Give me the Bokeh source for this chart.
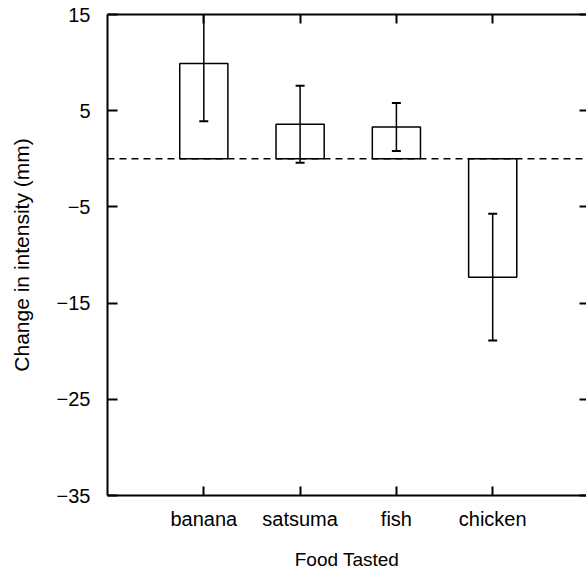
from bokeh.plotting import figure
from bokeh.models import Range1d, LinearAxis, FixedTicker, Span, ColumnDataSource
from bokeh.embed import file_html
from bokeh.resources import INLINE

# ---- data ----
foods = ["banana", "satsuma", "fish", "chicken"]
mean_change = [9.9, 3.6, 3.3, -12.3]
error = [6.0, 4.0, 2.5, 6.6]
y_ticks = [15, 5, -5, -15, -25, -35]

FONT = "Liberation Sans"

pos = [i + 1 for i in range(len(foods))]
src = ColumnDataSource(dict(
    x=pos,
    top=mean_change,
    upper=[m + e for m, e in zip(mean_change, error)],
    lower=[m - e for m, e in zip(mean_change, error)],
))

p = figure(width=586, height=573, output_backend="svg", toolbar_location=None,
           x_range=Range1d(0, 4.974), y_range=Range1d(-35, 15),
           min_border_left=107, min_border_right=0, min_border_top=14,
           min_border_bottom=78, x_axis_type=None, y_axis_type=None)
p.outline_line_color = None
p.xgrid.visible = False
p.ygrid.visible = False
p.background_fill_color = "white"
p.border_fill_color = "white"

# zero reference line
p.add_layout(Span(location=0, dimension="width", line_color="black",
                  line_width=1.5, line_dash="7 5"))

# bars
p.vbar(x="x", top="top", bottom=0, width=0.5, source=src,
       fill_color="white", line_color="black", line_width=1.5)

# error bars
p.segment(x0="x", y0="lower", x1="x", y1="upper", source=src,
          line_color="black", line_width=1.5)
p.scatter(x="x", y="upper", source=src, marker="dash", size=9,
          line_color="black", line_width=2)
p.scatter(x="x", y="lower", source=src, marker="dash", size=9,
          line_color="black", line_width=2)

xt = FixedTicker(ticks=pos)
yt = FixedTicker(ticks=y_ticks)
overrides = {p_: f for p_, f in zip(pos, foods)}

def style(ax, tin):
    ax.axis_line_color = "black"
    ax.axis_line_width = 2
    ax.major_tick_line_color = "black"
    ax.major_tick_line_width = 2
    ax.major_tick_in = tin
    ax.major_tick_out = 0
    ax.minor_tick_line_color = None

# bottom axis
xb = LinearAxis(ticker=xt, major_label_overrides=overrides, axis_label="Food Tasted")
style(xb, 9)
xb.major_label_text_font = FONT
xb.major_label_text_font_size = "20px"
xb.major_label_text_color = "black"
xb.major_label_standoff = 12
xb.axis_label_text_font = FONT
xb.axis_label_text_font_size = "19px"
xb.axis_label_text_font_style = "normal"
xb.axis_label_text_color = "black"
xb.axis_label_standoff = 16
p.add_layout(xb, "below")

# top axis (ticks only)
xa = LinearAxis(ticker=xt)
style(xa, 9)
xa.major_label_text_font_size = "0px"
xa.major_label_standoff = 0
p.add_layout(xa, "above")

# left axis
yl = LinearAxis(ticker=yt, axis_label="Change in intensity (mm)")
style(yl, 10)
yl.major_label_text_font = FONT
yl.major_label_text_font_size = "20px"
yl.major_label_text_color = "black"
yl.major_label_standoff = 17
yl.axis_label_text_font = FONT
yl.axis_label_text_font_size = "21px"
yl.axis_label_text_font_style = "normal"
yl.axis_label_text_color = "black"
yl.axis_label_standoff = 21
p.add_layout(yl, "left")

# right axis (ticks only)
yr = LinearAxis(ticker=yt)
style(yr, 7)
yr.axis_line_color = None
yr.major_label_text_font_size = "0px"
yr.major_label_standoff = 0
p.add_layout(yr, "right")

open("out.html", "w").write(file_html(p, INLINE))
